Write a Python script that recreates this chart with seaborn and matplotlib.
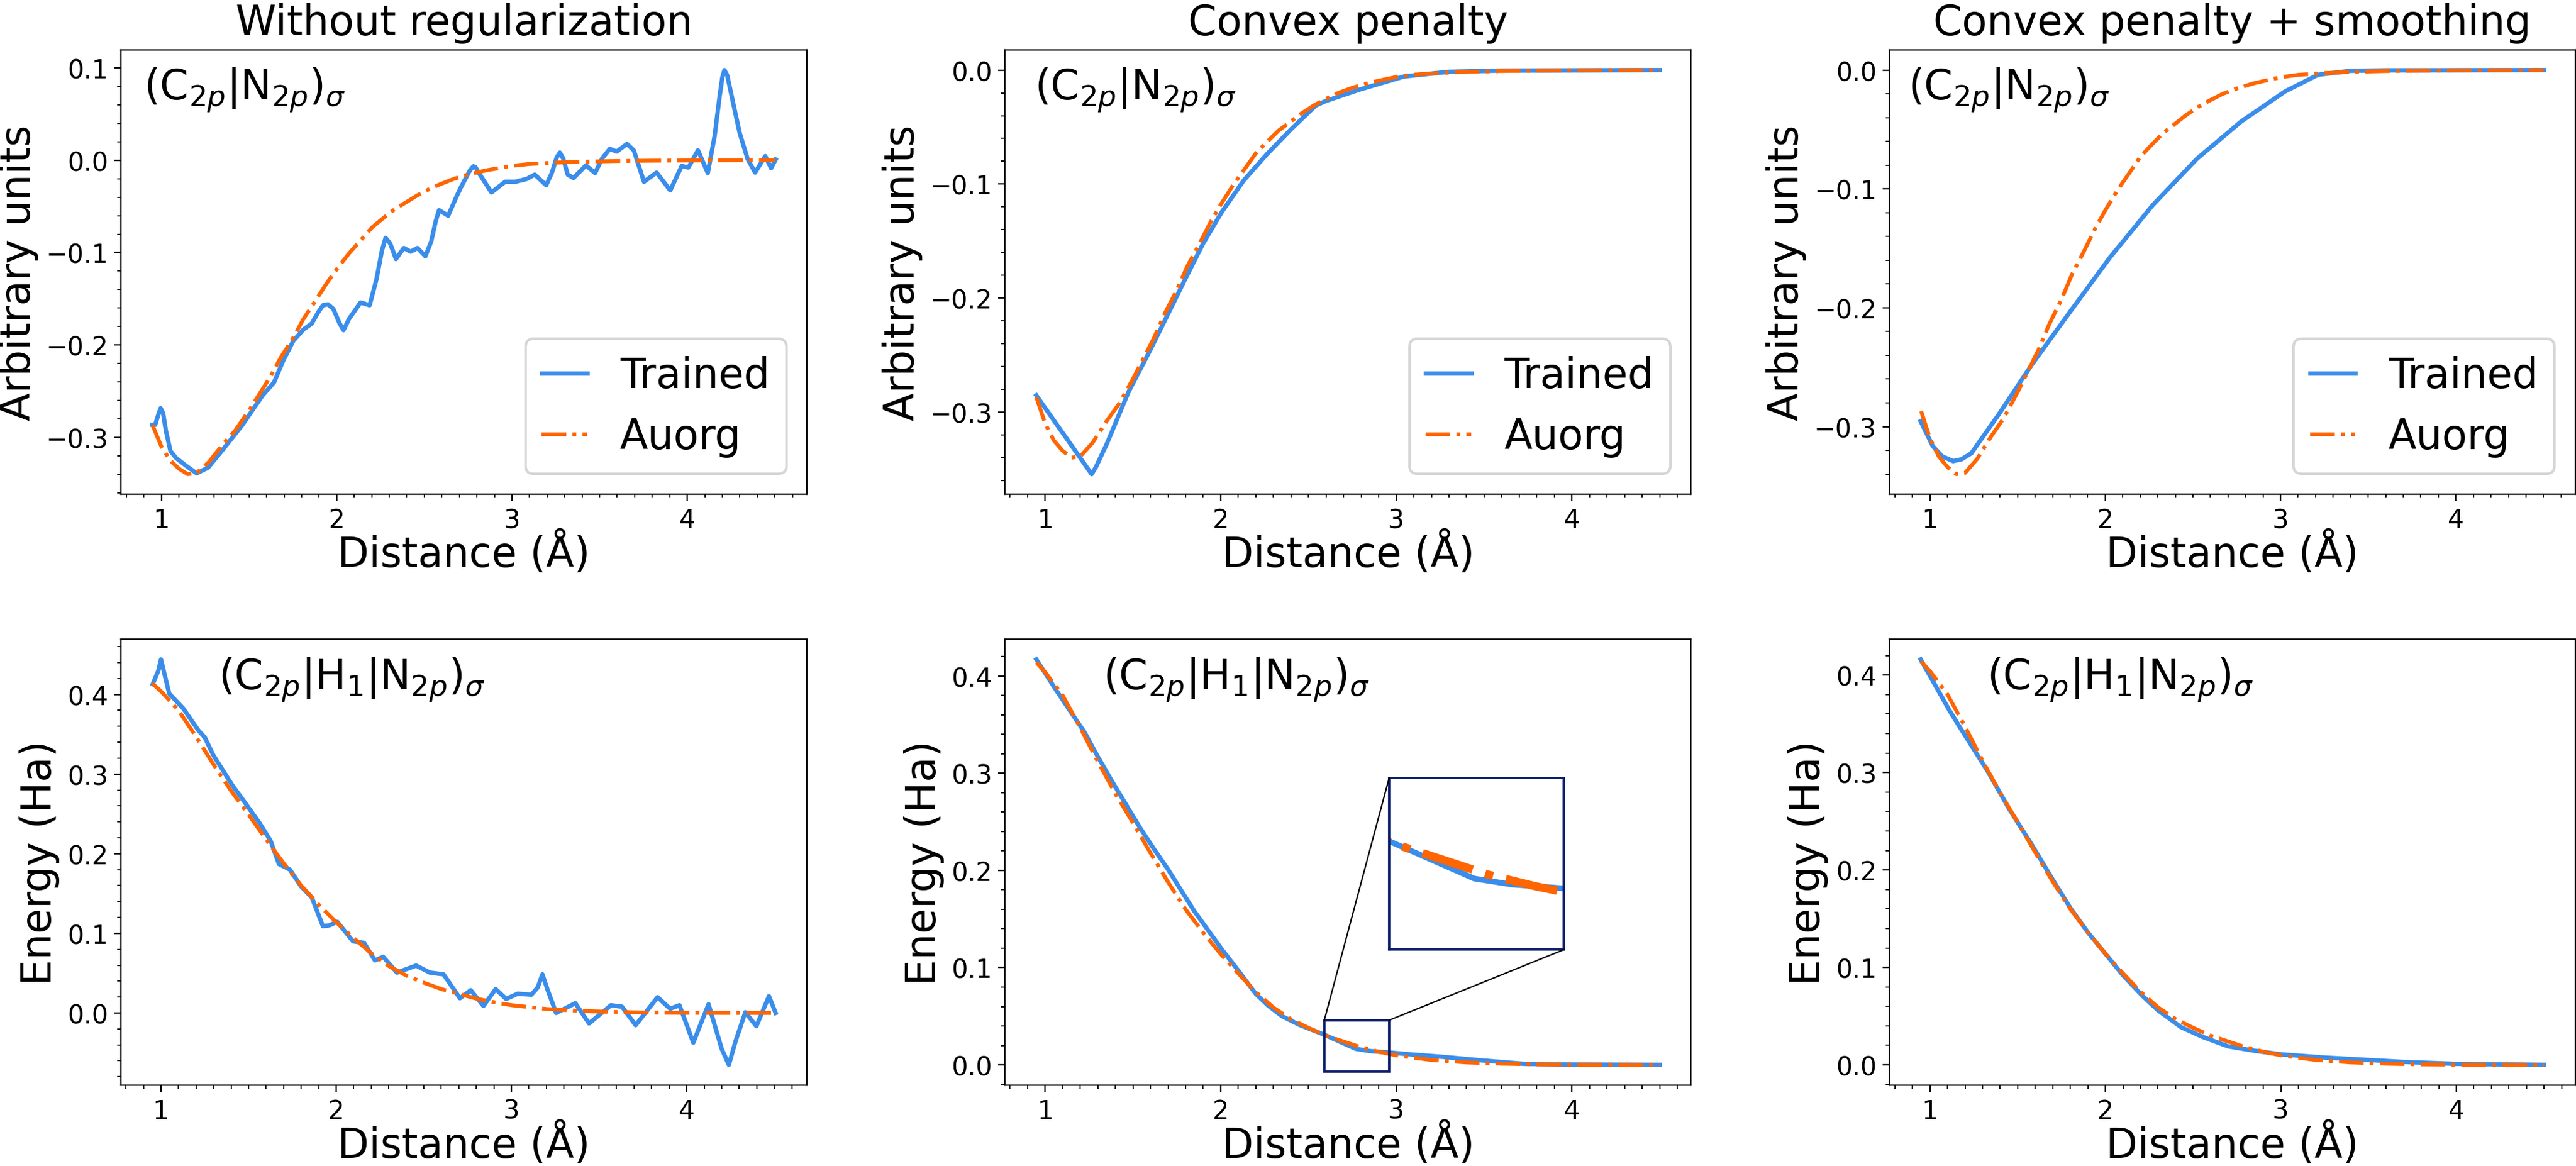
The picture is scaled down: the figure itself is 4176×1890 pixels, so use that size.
import matplotlib
matplotlib.use("Agg")
import matplotlib.pyplot as plt
import seaborn as sns
from matplotlib.ticker import MultipleLocator, AutoMinorLocator
from matplotlib.patches import Rectangle, ConnectionPatch

BLUE = "#3a8dea"
ORANGE = "#ff6500"
NAVY = "#0b1c6b"

plt.rcParams.update({
    "axes.linewidth": 0.56,
    "xtick.major.size": 2.6, "ytick.major.size": 2.6,
    "xtick.minor.size": 1.4, "ytick.minor.size": 1.4,
    "xtick.major.width": 0.56, "ytick.major.width": 0.56,
    "xtick.minor.width": 0.45, "ytick.minor.width": 0.45,
    "xtick.major.pad": 2.4, "ytick.major.pad": 2.4,
    "axes.labelpad": 2.8,
})

# ---- data (distance in Angstrom) ----
# (C2p|N2p)sigma, Auorg reference curve (same in all three top panels)
x_ref_top = [0.95, 1.0, 1.05, 1.1, 1.15, 1.2, 1.27, 1.35, 1.42, 1.5, 1.55, 1.62, 1.68,
             1.75, 1.81, 1.88, 1.94, 2.0, 2.07, 2.14, 2.2, 2.27, 2.33, 2.4, 2.46, 2.53,
             2.59, 2.67, 2.75, 2.85, 3.0, 3.1, 3.25, 3.4, 3.6, 3.8, 4.0, 4.25, 4.5]
y_ref_top = [-0.287, -0.310, -0.325, -0.334, -0.340, -0.339, -0.327, -0.308, -0.293,
             -0.271, -0.256, -0.235, -0.214, -0.193, -0.172, -0.152, -0.134, -0.118,
             -0.101, -0.086, -0.073, -0.062, -0.053, -0.045, -0.038, -0.031, -0.026,
             -0.020, -0.0155, -0.011, -0.006, -0.004, -0.0025, -0.0015, -0.0008,
             -0.0004, -0.0002, -0.0001, 0.0]

# trained, without regularization
x_noreg_top = [0.948, 0.965, 0.982, 0.996, 1.010, 1.026, 1.052, 1.084, 1.149, 1.201, 1.266,
               1.344, 1.461, 1.578, 1.643, 1.695, 1.753, 1.812, 1.857, 1.900, 1.922, 1.950,
               1.981, 2.015, 2.039, 2.070, 2.136, 2.188, 2.227, 2.258, 2.279, 2.305, 2.338,
               2.383, 2.422, 2.461, 2.506, 2.539, 2.565, 2.584, 2.636, 2.682, 2.708, 2.760,
               2.780, 2.792, 2.812, 2.838, 2.883, 2.961, 3.019, 3.084, 3.130, 3.195, 3.227,
               3.255, 3.273, 3.292, 3.318, 3.351, 3.422, 3.474, 3.513, 3.558, 3.597, 3.656,
               3.695, 3.753, 3.825, 3.903, 3.968, 4.006, 4.061, 4.117, 4.156, 4.185, 4.200,
               4.212, 4.228, 4.260, 4.299, 4.344, 4.387, 4.445, 4.478, 4.504]
y_noreg_top = [-0.2865, -0.2865, -0.276, -0.2685, -0.274, -0.293, -0.315, -0.3225, -0.332,
               -0.339, -0.333, -0.315, -0.287, -0.2545, -0.2405, -0.217, -0.1955, -0.183,
               -0.177, -0.163, -0.157, -0.156, -0.161, -0.176, -0.184, -0.172, -0.154,
               -0.157, -0.129, -0.098, -0.084, -0.090, -0.107, -0.095, -0.099, -0.095,
               -0.104, -0.088, -0.066, -0.054, -0.060, -0.040, -0.0295, -0.0109, -0.0065,
               -0.0075, -0.014, -0.0217, -0.0348, -0.0233, -0.0233, -0.0202, -0.0155,
               -0.0270, -0.0138, 0.003, 0.0083, 0.002, -0.0155, -0.0192, -0.0055, -0.0138,
               0.0015, 0.0124, 0.0094, 0.0177, 0.0108, -0.0233, -0.0133, -0.0326, -0.0062,
               -0.0078, 0.0108, -0.0138, 0.0263, 0.070, 0.090, 0.0977, 0.092, 0.0636,
               0.0295, 0.0015, -0.0133, 0.0045, -0.0085, 0.0008]

# trained, convex penalty
x_convex_top = [0.95, 1.24, 1.265, 1.29, 1.351, 1.476, 1.602, 1.79, 1.9, 2.009, 2.13, 2.26,
                2.40, 2.542, 2.60, 2.793, 3.044, 3.295, 3.6, 4.5]
y_convex_top = [-0.2854, -0.349, -0.3545, -0.348, -0.328, -0.282, -0.2446, -0.1858, -0.152,
                -0.1238, -0.097, -0.0743, -0.052, -0.031, -0.027, -0.017, -0.0056, -0.0015,
                -0.0004, 0.0]

# trained, convex penalty + smoothing
x_smooth_top = [0.947, 1.016, 1.07, 1.132, 1.18, 1.236, 1.393, 1.581, 1.801, 2.025, 2.272,
                2.523, 2.775, 3.026, 3.214, 3.40, 3.6, 4.503]
y_smooth_top = [-0.2955, -0.3164, -0.325, -0.329, -0.3275, -0.3224, -0.2896, -0.2478,
                -0.203, -0.158, -0.1134, -0.0746, -0.0433, -0.0179, -0.0039, -0.0006,
                -0.0002, 0.0]

# (C2p|H1|N2p)sigma, Auorg reference curve (same in all three bottom panels)
x_ref_bot = [0.95, 1.0, 1.1, 1.2, 1.3, 1.4, 1.5, 1.6, 1.7, 1.8, 1.9, 2.0, 2.1, 2.2, 2.3,
             2.4, 2.5, 2.6, 2.7, 2.8, 2.9, 3.0, 3.2, 3.4, 3.6, 3.8, 4.0, 4.25, 4.5]
y_ref_bot = [0.414, 0.404, 0.380, 0.347, 0.312, 0.279, 0.249, 0.218, 0.188, 0.160, 0.136,
             0.114, 0.094, 0.075, 0.059, 0.047, 0.038, 0.030, 0.024, 0.018, 0.0135, 0.0098,
             0.0050, 0.0025, 0.0012, 0.0005, 0.0002, 0.0001, 0.0]

x_noreg_bot = [0.953, 0.985, 1.0, 1.015, 1.047, 1.125, 1.213, 1.25, 1.298, 1.407, 1.47,
               1.564, 1.626, 1.673, 1.736, 1.799, 1.861, 1.924, 1.960, 2.006, 2.096, 2.159,
               2.221, 2.268, 2.347, 2.456, 2.535, 2.613, 2.706, 2.768, 2.84, 2.91, 2.97,
               3.036, 3.114, 3.150, 3.177, 3.205, 3.255, 3.365, 3.443, 3.568, 3.631, 3.709,
               3.834, 3.906, 3.959, 4.038, 4.125, 4.200, 4.241, 4.280, 4.335, 4.398, 4.470,
               4.508]
y_noreg_bot = [0.413, 0.430, 0.444, 0.430, 0.401, 0.383, 0.355, 0.346, 0.324, 0.286, 0.267,
               0.238, 0.216, 0.187, 0.180, 0.159, 0.145, 0.109, 0.110, 0.1145, 0.090, 0.088,
               0.066, 0.0705, 0.0507, 0.0595, 0.0507, 0.0485, 0.0185, 0.0286, 0.0088, 0.030,
               0.0176, 0.0242, 0.0229, 0.032, 0.0485, 0.030, 0.0, 0.0123, -0.0132, 0.0097,
               0.0079, -0.0154, 0.0198, 0.0053, 0.0097, -0.0374, 0.011, -0.045, -0.0652,
               -0.035, 0.0009, -0.0167, 0.0211, 0.0]

x_convex_bot = [0.95, 1.05, 1.15, 1.225, 1.3, 1.38, 1.46, 1.54, 1.62, 1.7, 1.78, 1.85, 1.93,
                2.01, 2.1, 2.2, 2.27, 2.35, 2.45, 2.59, 2.77, 2.85, 2.96, 3.1, 3.26, 3.48,
                3.73, 4.0, 4.5]
y_convex_bot = [0.417, 0.389, 0.362, 0.342, 0.317, 0.292, 0.268, 0.244, 0.222, 0.201, 0.178,
                0.158, 0.138, 0.118, 0.097, 0.073, 0.061, 0.050, 0.041, 0.031, 0.0165,
                0.0142, 0.0127, 0.0105, 0.0083, 0.0047, 0.001, 0.0003, 0.0]

x_smooth_bot = [0.947, 1.11, 1.2, 1.33, 1.45, 1.581, 1.7, 1.8, 1.9, 2.0, 2.1, 2.21, 2.3,
                2.43, 2.55, 2.7, 2.85, 3.0, 3.25, 3.53, 3.7, 4.0, 4.5]
y_smooth_bot = [0.416, 0.364, 0.338, 0.301, 0.263, 0.2257, 0.19, 0.161, 0.136, 0.114,
                0.092, 0.071, 0.056, 0.0388, 0.029, 0.019, 0.0145, 0.0108, 0.0075, 0.0047,
                0.003, 0.001, 0.0]

titles = ["Without regularization", "Convex penalty", "Convex penalty + smoothing"]
top_trained = [(x_noreg_top, y_noreg_top), (x_convex_top, y_convex_top), (x_smooth_top, y_smooth_top)]
bot_trained = [(x_noreg_bot, y_noreg_bot), (x_convex_bot, y_convex_bot), (x_smooth_bot, y_smooth_bot)]
label_top = r"(C$_{2p}$|N$_{2p}$)$_{\sigma}$"
label_bot = r"(C$_{2p}$|H$_{1}$|N$_{2p}$)$_{\sigma}$"

# zoom window of the inset (bottom middle panel)
zoom_x = (2.59, 2.96)
zoom_y_box = (-0.007, 0.046)
zoom_y_inset = (-0.011, 0.0555)

# ---- layout (figure fractions, matched to reference) ----
fig = plt.figure(figsize=(13.92, 6.3033), dpi=300)
lefts = [0.0470, 0.3902, 0.7335]
w = 0.2662
top_b, top_h = 0.5757, 0.3810
bot_b, bot_h = 0.0693, 0.3823
text_x_top = [0.033, 0.043, 0.027]
text_x_bot = [0.142, 0.143, 0.142]


def style_axes(ax):
    ax.xaxis.set_major_locator(MultipleLocator(1))
    ax.xaxis.set_minor_locator(MultipleLocator(0.1))
    ax.yaxis.set_major_locator(MultipleLocator(0.1))
    ax.yaxis.set_minor_locator(AutoMinorLocator())
    ax.set_xlabel("Distance (Å)", fontsize=16, labelpad=-0.9)


for i in range(3):
    ax = fig.add_axes([lefts[i], top_b, w, top_h])
    xt, yt = top_trained[i]
    sns.lineplot(x=xt, y=yt, ax=ax, color=BLUE, lw=1.7, label="Trained")
    sns.lineplot(x=x_ref_top, y=y_ref_top, ax=ax, color=ORANGE, lw=1.5, ls="-.", label="Auorg")
    ax.set_title(titles[i], fontsize=16)
    ax.set_ylabel("Arbitrary units", fontsize=16)
    style_axes(ax)
    ax.text(text_x_top[i], 0.91, label_top, transform=ax.transAxes, fontsize=16, va="center")
    ax.legend(loc="lower right", fontsize=16, handlelength=1.1)

    axb = fig.add_axes([lefts[i], bot_b, w, bot_h])
    xb, yb = bot_trained[i]
    sns.lineplot(x=xb, y=yb, ax=axb, color=BLUE, lw=1.7)
    sns.lineplot(x=x_ref_bot, y=y_ref_bot, ax=axb, color=ORANGE, lw=1.5, ls="-.")
    axb.set_ylabel("Energy (Ha)", fontsize=16)
    style_axes(axb)
    axb.text(text_x_bot[i], 0.91, label_bot, transform=axb.transAxes, fontsize=16, va="center")

    if i == 1:
        ins = axb.inset_axes([0.56, 0.304, 0.255, 0.385])
        sns.lineplot(x=xb, y=yb, ax=ins, color=BLUE, lw=2.2)
        sns.lineplot(x=x_ref_bot, y=y_ref_bot, ax=ins, color=ORANGE, lw=3.2, ls="-.")
        ins.set_xlim(*zoom_x)
        ins.set_ylim(*zoom_y_inset)
        ins.set_xticks([])
        ins.set_yticks([])
        ins.set_xlabel("")
        ins.set_ylabel("")
        for sp in ins.spines.values():
            sp.set_color(NAVY)
            sp.set_linewidth(0.9)
        box = Rectangle((zoom_x[0], zoom_y_box[0]), zoom_x[1] - zoom_x[0],
                        zoom_y_box[1] - zoom_y_box[0], fill=False, ec=NAVY, lw=0.9, zorder=5)
        axb.add_patch(box)
        for pb, pa in [((zoom_x[0], zoom_y_box[1]), (0, 1)), ((zoom_x[1], zoom_y_box[1]), (1, 0))]:
            con = ConnectionPatch(xyA=pa, coordsA=ins.transAxes, xyB=pb, coordsB=axb.transData,
                                  color="black", lw=0.55)
            fig.add_artist(con)

fig.savefig("out.png", dpi=300)
